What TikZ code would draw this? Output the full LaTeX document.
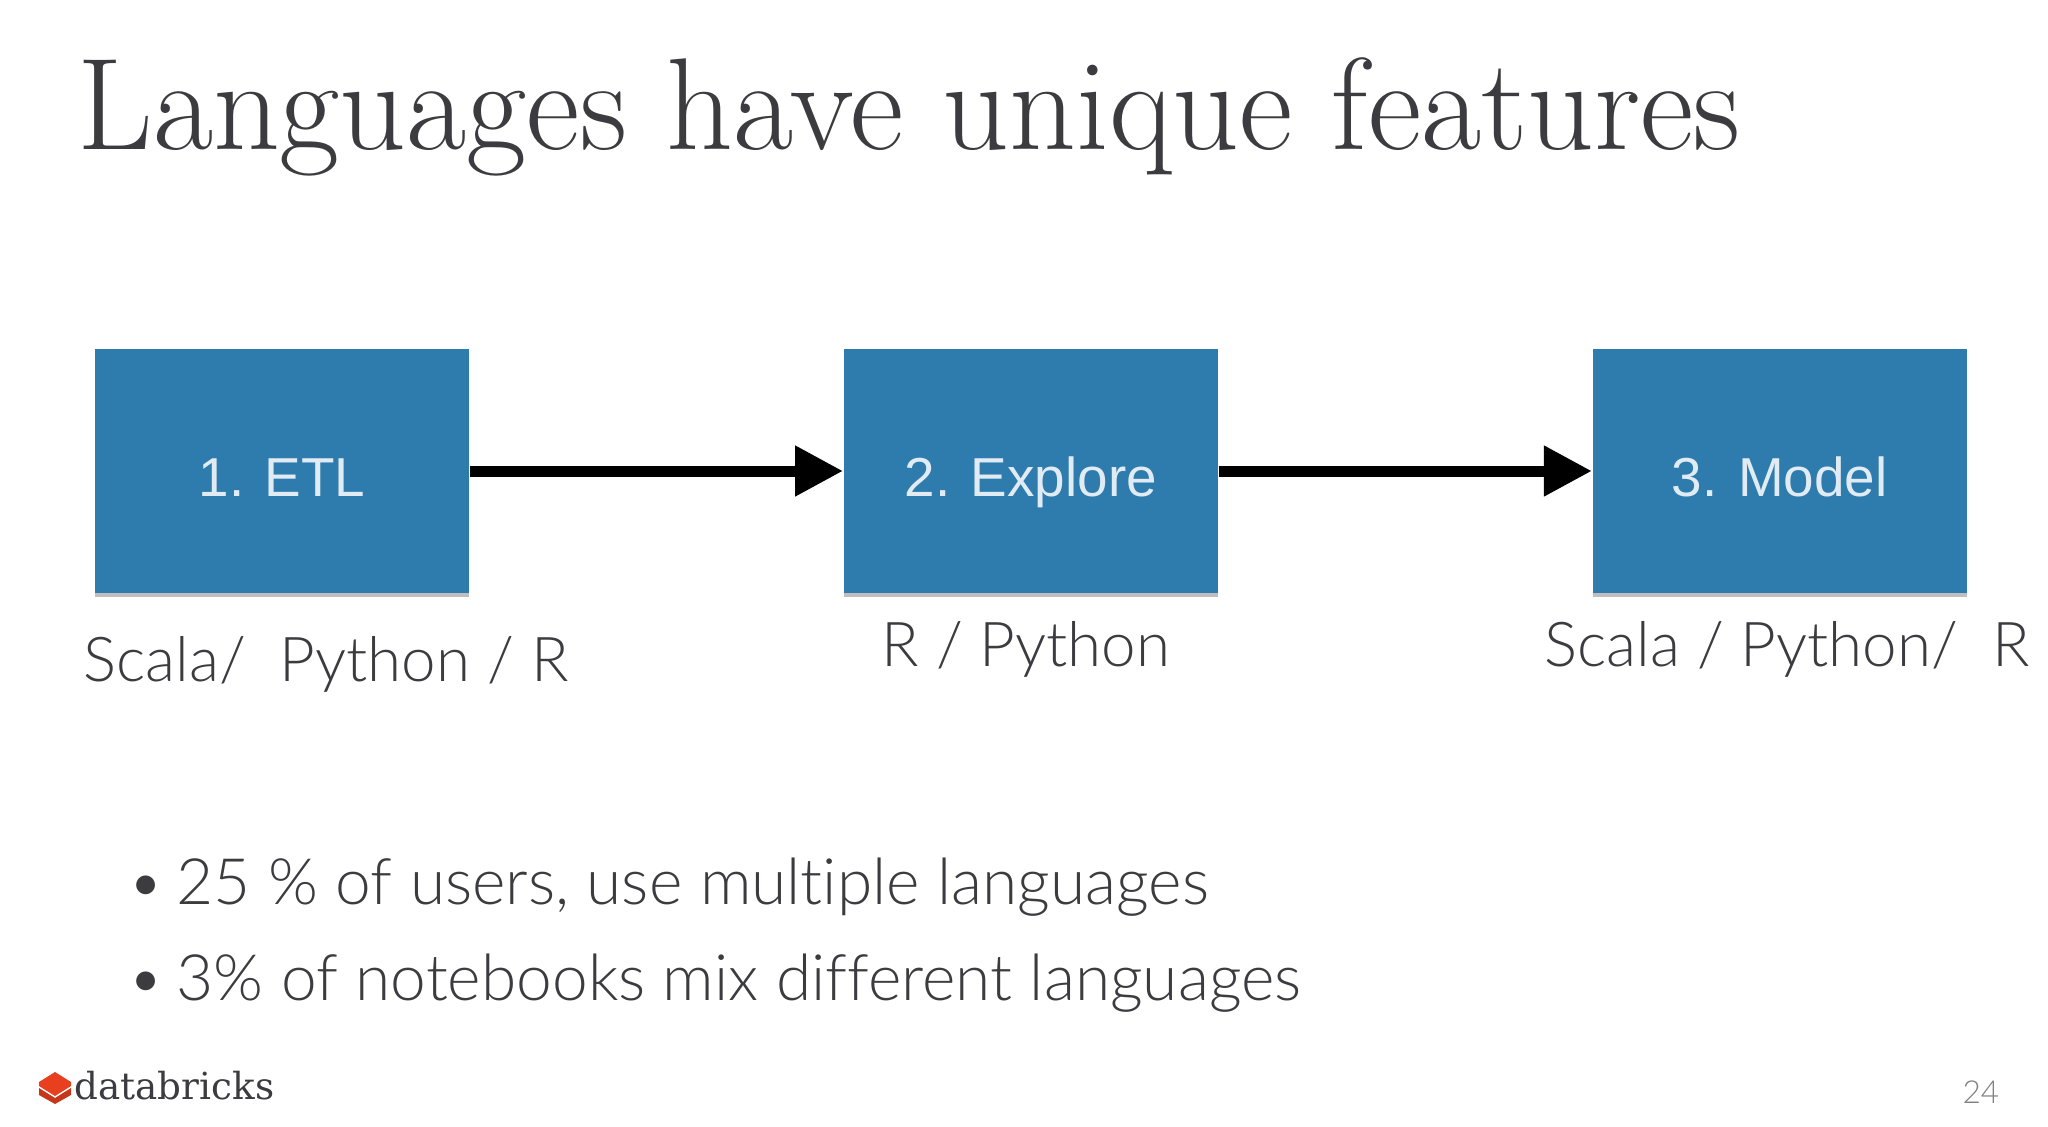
\documentclass[tikz,border=0pt]{standalone}
\usepackage{fontspec}
\setmainfont{Lato Light}[BoldFont={Lato},Ligatures=CommonOff]
\newfontfamily\titlefont{Latin Modern Roman}
\newfontfamily\boxfont{Liberation Sans}
\newfontfamily\logofont{DejaVu Serif}
\usetikzlibrary{positioning,arrows.meta,shadows}
\definecolor{boxblue}{HTML}{2E7BAD}
\definecolor{inkgray}{HTML}{3C3C40}
\definecolor{logored}{HTML}{E8401F}
\tikzset{
    stagebox/.style={fill=boxblue, minimum width=3.74cm, minimum height=2.44cm, inner sep=0pt,
        text=white!85!boxblue, text height=0.58cm, text depth=0.08cm, font=\boxfont\fontsize{15.6}{15.6}\selectfont,
        drop shadow={shadow xshift=0pt, shadow yshift=-0.04cm, opacity=.5}},
    flowarrow/.style={line width=0.11cm, -{Triangle[length=0.48cm,width=0.48cm]}},
    langlabel/.style={inkgray, inner sep=0pt, anchor=base west, font=\fontsize{17.6}{17.6}\selectfont},
    bulletline/.style={inkgray, inner sep=0pt, anchor=base west, font=\fontsize{18.2}{18.2}\selectfont}
}
\begin{document}
\begin{tikzpicture}[x=0.01cm, y=0.01cm]
    \useasboundingbox (0,0) rectangle (2048,1126);

    \node[inkgray, inner sep=0pt, anchor=base west, font=\titlefont\fontsize{37.2}{37.2}\selectfont] (title) at (77,977) {Languages have unique features};

    \node[stagebox] (etl) at (282,655) {1. ETL};
    \node[stagebox, right=3.73cm of etl] (explore) {2. Explore};
    \node[stagebox, right=3.73cm of explore] (model) {3. Model};
    \draw[flowarrow] (etl) -- (explore);
    \draw[flowarrow] (explore) -- (model);

    \node[langlabel] (lang1) at (83,445) {Scala/\ \ Python / R};
    \node[langlabel] (lang2) at (881,460) {R / Python};
    \node[langlabel] (lang3) at (1544,460) {Scala / Python/\ \ R};

    \node[bulletline] (bullet1) at (127,222) {\textbullet\hspace{0.12cm}25 \% of users, use multiple languages};
    \node[bulletline] (bullet2) at (127,126) {\textbullet\hspace{0.12cm}3\% of notebooks mix different languages};

    % logo
    \fill[logored!85!black] (39,38) -- (55,28) -- (71,38) -- (71,31) -- (55,22) -- (39,31) -- cycle;
    \fill[logored] (39,44) -- (55,54) -- (71,44) -- (71,40) -- (55,30) -- (39,40) -- cycle;
    \node[inkgray, inner sep=0pt, anchor=base west, font=\logofont\fontsize{10.6}{10.6}\selectfont] (logo) at (74,27) {databricks};

    \node[gray, inner sep=0pt, anchor=base east, font=\fontsize{9}{9}\selectfont] (page) at (2000,23) {24};
\end{tikzpicture}
\end{document}
